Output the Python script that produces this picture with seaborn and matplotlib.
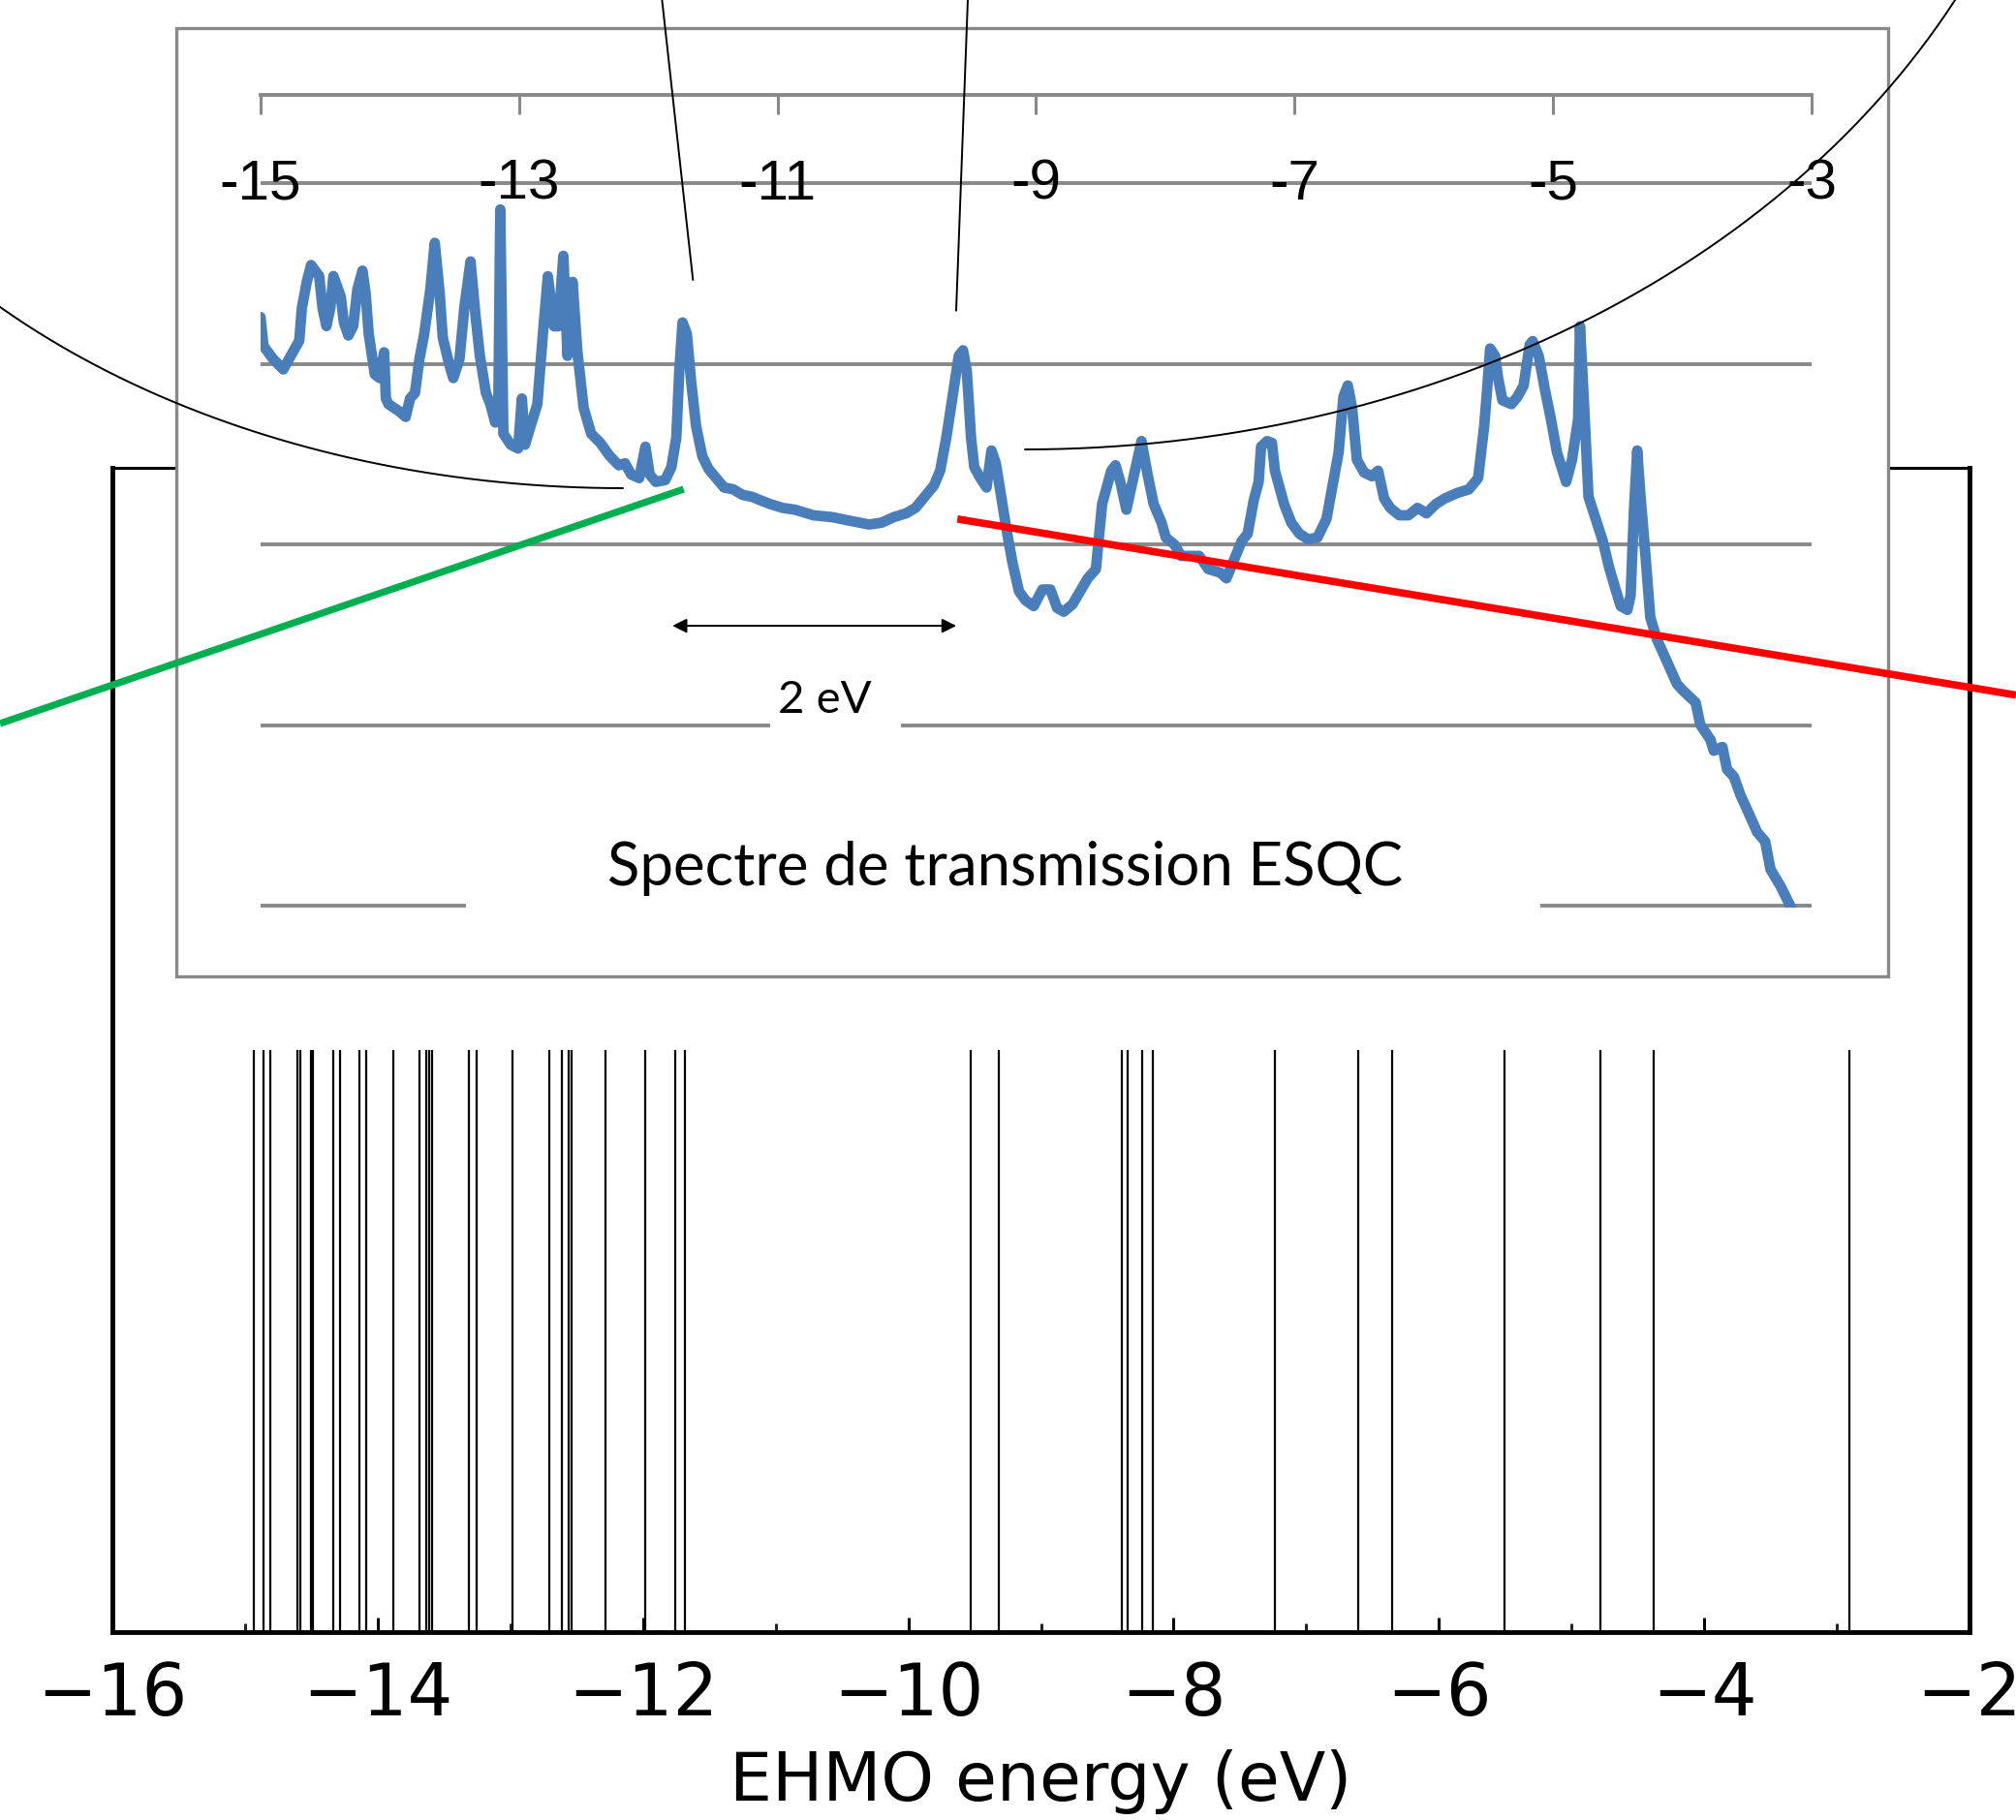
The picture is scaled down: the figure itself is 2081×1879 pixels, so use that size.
import numpy as np
import pandas as pd
import matplotlib
matplotlib.use("Agg")
import matplotlib.pyplot as plt
import seaborn as sns
from matplotlib.patches import Rectangle

# ---------------------------------------------------------------- data
# Extended-Hueckel molecular orbital energies (eV); close pairs are near-degenerate levels
mo_energies = [
    -14.936, -14.858, -14.807, -14.608, -14.582, -14.506, -14.488, -14.335,
    -14.283, -14.137, -14.088, -13.884, -13.682, -13.637, -13.615, -13.593,
    -13.312, -13.256, -12.983, -12.703, -12.611, -12.560, -12.541, -12.282,
    -11.985, -11.758, -11.685, -9.533, -9.315, -8.388, -8.344, -8.238,
    -8.160, -7.233, -6.607, -6.354, -5.509, -4.781, -4.384, -2.903,
]

# ESQC transmission spectrum: (energy in eV, log10 of transmission, shifted)
transmission_points = [
    (-15.000, 3.26), (-14.977, 3.10), (-14.905, 3.03), (-14.824, 2.97), (-14.762, 3.05),
    (-14.700, 3.13), (-14.680, 3.31), (-14.642, 3.455), (-14.609, 3.548), (-14.546, 3.487),
    (-14.520, 3.31), (-14.490, 3.21), (-14.460, 3.31), (-14.436, 3.487), (-14.379, 3.373),
    (-14.355, 3.23), (-14.320, 3.158), (-14.283, 3.21), (-14.250, 3.415), (-14.211, 3.517),
    (-14.187, 3.394), (-14.163, 3.168), (-14.116, 2.943), (-14.078, 2.922), (-14.044, 3.065),
    (-14.030, 2.809), (-14.010, 2.778), (-13.925, 2.737), (-13.877, 2.707), (-13.843, 2.809),
    (-13.805, 2.84), (-13.771, 3.025), (-13.733, 3.168), (-13.686, 3.415), (-13.652, 3.671),
    (-13.614, 3.394), (-13.590, 3.147), (-13.542, 3.004), (-13.509, 2.922), (-13.461, 3.025),
    (-13.423, 3.312), (-13.375, 3.568), (-13.337, 3.271), (-13.303, 3.045), (-13.256, 2.84),
    (-13.222, 2.778), (-13.184, 2.676), (-13.160, 2.757), (-13.145, 3.856), (-13.121, 2.614),
    (-13.064, 2.553), (-13.007, 2.532), (-12.978, 2.809), (-12.954, 2.553), (-12.911, 2.655),
    (-12.858, 2.778), (-12.815, 3.168), (-12.777, 3.486), (-12.729, 3.209), (-12.696, 3.209),
    (-12.657, 3.599), (-12.625, 3.045), (-12.586, 3.455), (-12.548, 3.065), (-12.500, 2.757),
    (-12.442, 2.614), (-12.371, 2.563), (-12.299, 2.491), (-12.228, 2.439), (-12.180, 2.45),
    (-12.132, 2.388), (-12.070, 2.368), (-12.022, 2.542), (-11.989, 2.388), (-11.941, 2.347),
    (-11.869, 2.357), (-11.821, 2.429), (-11.783, 2.593), (-11.760, 2.963), (-11.735, 3.23),
    (-11.702, 3.168), (-11.668, 2.901), (-11.630, 2.655), (-11.582, 2.49), (-11.534, 2.419),
    (-11.462, 2.357), (-11.414, 2.316), (-11.343, 2.306), (-11.271, 2.275), (-11.200, 2.265),
    (-11.128, 2.244), (-11.056, 2.224), (-10.960, 2.203), (-10.865, 2.193), (-10.722, 2.162),
    (-10.578, 2.152), (-10.435, 2.131), (-10.292, 2.111), (-10.196, 2.121), (-10.100, 2.152),
    (-10.005, 2.173), (-9.933, 2.203), (-9.861, 2.265), (-9.790, 2.327), (-9.742, 2.409),
    (-9.694, 2.593), (-9.646, 2.819), (-9.598, 3.045), (-9.565, 3.076), (-9.536, 2.963),
    (-9.503, 2.593), (-9.478, 2.429), (-9.431, 2.368), (-9.383, 2.316), (-9.345, 2.521),
    (-9.311, 2.45), (-9.235, 2.111), (-9.184, 1.905), (-9.132, 1.741), (-9.080, 1.690),
    (-9.018, 1.659), (-8.951, 1.751), (-8.889, 1.751), (-8.837, 1.649), (-8.786, 1.628),
    (-8.718, 1.669), (-8.651, 1.751), (-8.600, 1.813), (-8.537, 1.864), (-8.489, 2.224),
    (-8.418, 2.409), (-8.385, 2.439), (-8.348, 2.347), (-8.301, 2.193), (-8.254, 2.347),
    (-8.184, 2.573), (-8.137, 2.388), (-8.090, 2.224), (-8.029, 2.121), (-7.996, 2.039),
    (-7.926, 1.998), (-7.879, 1.937), (-7.738, 1.937), (-7.667, 1.864), (-7.574, 1.844),
    (-7.527, 1.813), (-7.480, 1.895), (-7.409, 2.019), (-7.363, 2.060), (-7.316, 2.245),
    (-7.278, 2.347), (-7.259, 2.542), (-7.212, 2.573), (-7.175, 2.563), (-7.152, 2.409),
    (-7.081, 2.224), (-7.025, 2.121), (-6.963, 2.060), (-6.894, 2.029), (-6.823, 2.039),
    (-6.753, 2.142), (-6.706, 2.327), (-6.659, 2.511), (-6.622, 2.819), (-6.588, 2.881),
    (-6.555, 2.758), (-6.518, 2.470), (-6.462, 2.399), (-6.401, 2.378), (-6.354, 2.409),
    (-6.307, 2.255), (-6.260, 2.203), (-6.190, 2.162), (-6.119, 2.162), (-6.049, 2.203),
    (-5.979, 2.173), (-5.908, 2.224), (-5.838, 2.255), (-5.744, 2.285), (-5.651, 2.306),
    (-5.580, 2.368), (-5.533, 2.655), (-5.510, 2.861), (-5.487, 3.086), (-5.449, 3.045),
    (-5.425, 2.922), (-5.392, 2.799), (-5.322, 2.778), (-5.275, 2.819), (-5.228, 2.881),
    (-5.181, 3.107), (-5.158, 3.127), (-5.111, 3.045), (-5.064, 2.861), (-5.017, 2.696),
    (-4.970, 2.511), (-4.899, 2.347), (-4.853, 2.471), (-4.806, 2.696), (-4.792, 3.209),
    (-4.759, 2.758), (-4.726, 2.265), (-4.661, 2.121), (-4.615, 2.019), (-4.567, 1.875),
    (-4.529, 1.782), (-4.477, 1.659), (-4.425, 1.638), (-4.400, 1.720), (-4.374, 2.193),
    (-4.349, 2.521), (-4.322, 2.254), (-4.286, 1.946), (-4.248, 1.597), (-4.196, 1.474),
    (-4.144, 1.392), (-4.093, 1.310), (-4.041, 1.227), (-3.989, 1.187), (-3.897, 1.125),
    (-3.861, 1.002), (-3.783, 0.920), (-3.757, 0.858), (-3.690, 0.879), (-3.654, 0.755),
    (-3.602, 0.715), (-3.550, 0.612), (-3.498, 0.530), (-3.421, 0.407), (-3.359, 0.355),
    (-3.318, 0.201), (-3.241, 0.109), (-3.163, -0.004), (-3.111, -0.107),
]

ehmo_ticks = list(range(-16, -1, 2))
ehmo_minor_ticks = list(range(-15, -2, 2))
esqc_ticks = list(range(-15, -2, 2))
esqc_grid = [0, 1, 2, 3, 4]

# ---------------------------------------------------------------- style
sns.set_style("white")
plt.rcParams["font.family"] = ["DejaVu Sans"]
plt.rcParams["axes.unicode_minus"] = True

W, H, DPI = 2081, 1879, 100
GRAY = "#898989"
BLUE = "#4A7EBB"

fig = plt.figure(figsize=(W / DPI, H / DPI), dpi=DPI, facecolor="white")


def frac_box(x0, y0, x1, y1):
    """Convert a pixel box (top-left origin) to figure-fraction rect."""
    return [x0 / W, 1 - y1 / H, (x1 - x0) / W, (y1 - y0) / H]


# ---------------------------------------------------------------- EHMO level diagram
ax = fig.add_axes(frac_box(116, 483, 2033, 1685), zorder=0)
ax.set_xlim(-16, -2)
ax.set_ylim(0, 1)
sns.rugplot(x=mo_energies, height=0.5, ax=ax, color="black", linewidth=1.6,
            expand_margins=False)
ax.set_xticks(ehmo_ticks)
ax.set_xticklabels([f"\u2212{abs(t)}" for t in ehmo_ticks])
ax.set_xticks(ehmo_minor_ticks, minor=True)
ax.set_yticks([])
ax.tick_params(axis="x", which="major", direction="in", length=11, width=2.2,
               bottom=True, top=False, labelsize=53, pad=21, colors="black")
ax.tick_params(axis="x", which="minor", direction="in", length=6.5, width=2.2,
               bottom=True, top=False)
ax.set_xlabel("EHMO energy (eV)", fontsize=50, labelpad=13.5, color="black")
for side in ("left", "right", "bottom"):
    ax.spines[side].set_linewidth(3.5)
    ax.spines[side].set_color("black")
ax.spines["top"].set_linewidth(2.2)
ax.spines["top"].set_color("black")

# ---------------------------------------------------------------- ESQC spectrum frame
fig.add_artist(Rectangle((182 / W, 1 - 1007.7 / H), (1949 - 182) / W, (1007.7 - 28.7) / H,
                         transform=fig.transFigure, facecolor="white",
                         edgecolor=GRAY, linewidth=2.4, zorder=1))

ax_in = fig.add_axes(frac_box(268.9, 97.6, 1870, 937), zorder=2)
ax_in.patch.set_visible(False)
df = pd.DataFrame(transmission_points, columns=["energy", "logT"])
sns.lineplot(data=df, x="energy", y="logT", ax=ax_in, color=BLUE, linewidth=7.8,
             sort=False, estimator=None, solid_joinstyle="round",
             solid_capstyle="round")
ax_in.set_xlim(-15, -3)
ax_in.set_ylim(-0.0107, 4.4925)
ax_in.set_xlabel("")
ax_in.set_ylabel("")
ax_in.set_yticks(esqc_grid)
ax_in.yaxis.grid(True, color=GRAY, linewidth=2.8)
ax_in.xaxis.grid(False)
ax_in.tick_params(axis="y", left=False, right=False, labelleft=False)
ax_in.xaxis.set_ticks_position("top")
ax_in.set_xticks(esqc_ticks)
ax_in.tick_params(axis="x", direction="in", length=14.5, width=2.2, color=GRAY,
                  top=True, bottom=False, labeltop=False, labelbottom=False)
for side in ("left", "right", "bottom"):
    ax_in.spines[side].set_visible(False)
ax_in.spines["top"].set_color(GRAY)
ax_in.spines["top"].set_linewidth(2.8)

for t in esqc_ticks:
    ax_in.text(t, 3.911, f"{t}", ha="center", va="baseline", fontsize=42,
               family=["Liberation Sans Narrow", "Liberation Sans"],
               fontstretch="condensed", color="black", zorder=3)

# white text boxes laid over the gridlines
ax_in.add_patch(Rectangle((-11.056, 0.95), 1.012, 0.1, facecolor="white",
                          edgecolor="none", zorder=1.8))
ax_in.add_patch(Rectangle((-13.409, -0.06), 8.312, 0.12, facecolor="white",
                          edgecolor="none", zorder=1.8))
ax_in.text(-10.633, 1.068, "2 eV", ha="center", va="baseline", fontsize=34,
           family=["Lato"], color="black", zorder=3)
ax_in.text(-9.242, 0.1127, "Spectre de transmission ESQC", ha="center",
           va="baseline", fontsize=44.5, family=["Lato"], color="black", zorder=3)
ax_in.annotate("", xy=(-11.813, 1.55), xytext=(-9.617, 1.55),
               arrowprops=dict(arrowstyle="<|-|>", color="black", lw=1.4,
                               mutation_scale=22, shrinkA=0, shrinkB=0))

# ---------------------------------------------------------------- connector lines
ax_o = fig.add_axes([0, 0, 1, 1], zorder=3)
ax_o.set_xlim(0, W)
ax_o.set_ylim(H, 0)
ax_o.axis("off")
ax_o.patch.set_visible(False)

ax_o.plot([0, 705.7], [747, 505], color="#00B050", linewidth=5.2, solid_capstyle="butt")
ax_o.plot([988.2, 2081], [535.8, 717.6], color="#FF0000", linewidth=5.5,
          solid_capstyle="butt")
ax_o.plot([683.4, 715.3], [0, 289], color="black", linewidth=1.4)
ax_o.plot([999, 987], [0, 320.7], color="black", linewidth=1.4)

t_left = np.linspace(np.pi / 2, np.radians(140), 200)
ax_o.plot(643 + 900 * np.cos(t_left), -119 + 623 * np.sin(t_left), color="black",
          linewidth=1.4)
t_right = np.linspace(np.pi / 2, np.radians(24), 200)
ax_o.plot(1058 + 1080 * np.cos(t_right), -392 + 856 * np.sin(t_right), color="black",
          linewidth=1.4)

fig.savefig("out.png", dpi=DPI, facecolor="white")
